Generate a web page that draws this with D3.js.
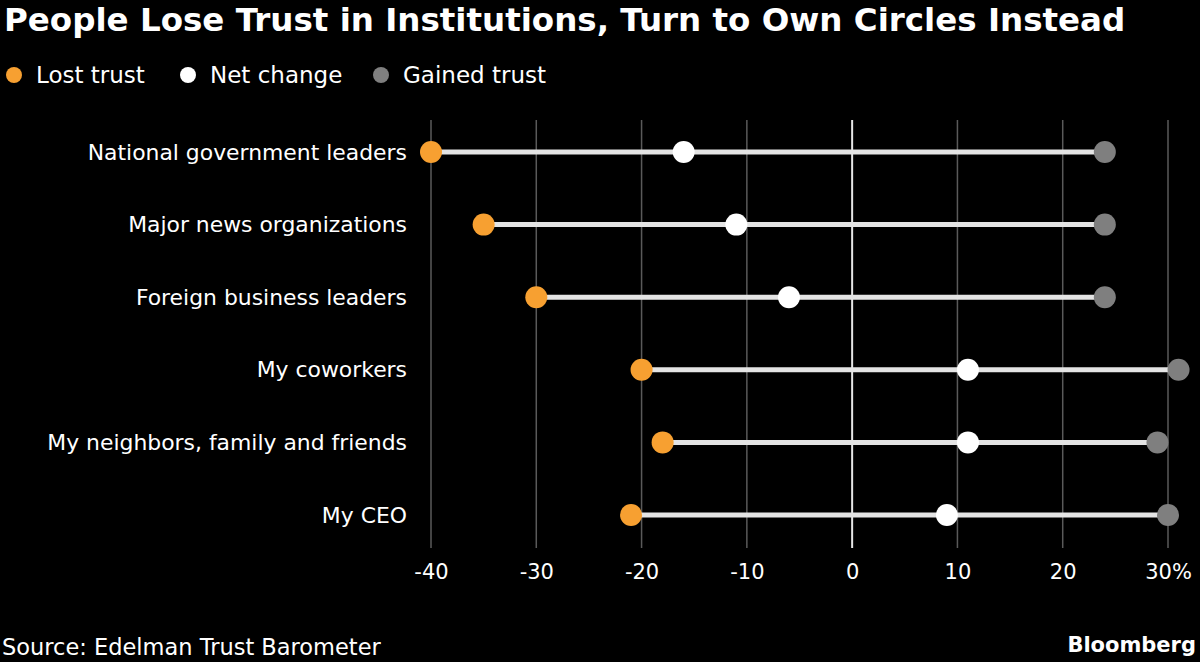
<!DOCTYPE html>
<html lang="en">
<head>
<meta charset="utf-8">
<title>People Lose Trust in Institutions</title>
<script src="https://d3js.org/d3.v7.min.js"></script>
<style>
  body { margin: 0; background: #000; }
  text { font-family: 'DejaVu Sans', sans-serif; fill: #fff; }
</style>
</head>
<body>
<svg id="chart"></svg>
<script>
const categories = ["National government leaders", "Major news organizations", "Foreign business leaders",
    "My coworkers", "My neighbors, family and friends", "My CEO"];
const lostTrust = [-40, -35, -30, -20, -18, -21];
const netChange = [-16, -11, -6, 11, 11, 9];
const gainedTrust = [24, 24, 24, 31, 29, 30];
const xTicks = [-40, -30, -20, -10, 0, 10, 20, 30];

const W = 1200, H = 662;
const svg = d3.select("#chart").attr("width", W).attr("height", H);
svg.append("rect").attr("width", W).attr("height", H).attr("fill", "#000");

const x = d3.scaleLinear().domain([-40, 30]).range([431, 1168]);
const y = d3.scalePoint().domain(categories).range([152, 515]);

const rows = categories.map((c, i) => ({cat: c, lost: lostTrust[i], net: netChange[i], gained: gainedTrust[i]}));

// title + legend
svg.append("text").attr("x", 4).attr("y", 31)
    .style("font-weight", "bold").style("font-size", "32.5px")
    .text("People Lose Trust in Institutions, Turn to Own Circles Instead");

const legend = [
    {label: "Lost trust", color: "#f7a031", x: 14},
    {label: "Net change", color: "#ffffff", x: 188},
    {label: "Gained trust", color: "#7f7f7f", x: 381}
];
const lg = svg.append("g").selectAll("g").data(legend).join("g")
    .attr("transform", d => `translate(${d.x},75)`);
lg.append("circle").attr("r", 8).attr("fill", d => d.color);
lg.append("text").attr("x", 22).attr("dy", "0.35em").style("font-size", "23px").text(d => d.label);

// grid
svg.append("g").selectAll("line").data(xTicks).join("line")
    .attr("x1", d => x(d)).attr("x2", d => x(d))
    .attr("y1", 120).attr("y2", 548)
    .attr("stroke", d => d === 0 ? "#e6e6e6" : "#5a5a5a")
    .attr("stroke-width", d => d === 0 ? 2 : 1.5);

// x axis
const xAxis = svg.append("g").attr("transform", "translate(0,548)")
    .call(d3.axisBottom(x).tickValues(xTicks).tickSize(0).tickPadding(16)
        .tickFormat(d => d === 30 ? "30%" : String(d)));
xAxis.select(".domain").remove();
xAxis.selectAll("text").style("font-size", "21px").attr("fill", "#fff");

// category labels
svg.append("g").selectAll("text").data(categories).join("text")
    .attr("x", 407).attr("y", d => y(d)).attr("dy", "0.35em")
    .attr("text-anchor", "end").style("font-size", "21.9px").text(d => d);

// connector lines
svg.append("g").selectAll("line").data(rows).join("line")
    .attr("x1", d => x(d.lost)).attr("x2", d => x(d.gained))
    .attr("y1", d => y(d.cat)).attr("y2", d => y(d.cat))
    .attr("stroke", "#e4e4e4").attr("stroke-width", 5);

const dots = svg.append("g");
dots.selectAll(".lost").data(rows).join("circle").attr("class", "lost")
    .attr("cx", d => x(d.lost)).attr("cy", d => y(d.cat)).attr("r", 11).attr("fill", "#f7a031");
dots.selectAll(".gained").data(rows).join("circle").attr("class", "gained")
    .attr("cx", d => x(d.gained)).attr("cy", d => y(d.cat)).attr("r", 11).attr("fill", "#7f7f7f");
dots.selectAll(".net").data(rows).join("circle").attr("class", "net")
    .attr("cx", d => x(d.net)).attr("cy", d => y(d.cat)).attr("r", 11).attr("fill", "#fff");

// footer
svg.append("text").attr("x", 2).attr("y", 655).style("font-size", "22.5px").text("Source: Edelman Trust Barometer");
svg.append("text").attr("x", 1196).attr("y", 652).attr("text-anchor", "end")
    .style("font-weight", "bold").style("font-size", "21px").text("Bloomberg");
</script>
</body>
</html>
